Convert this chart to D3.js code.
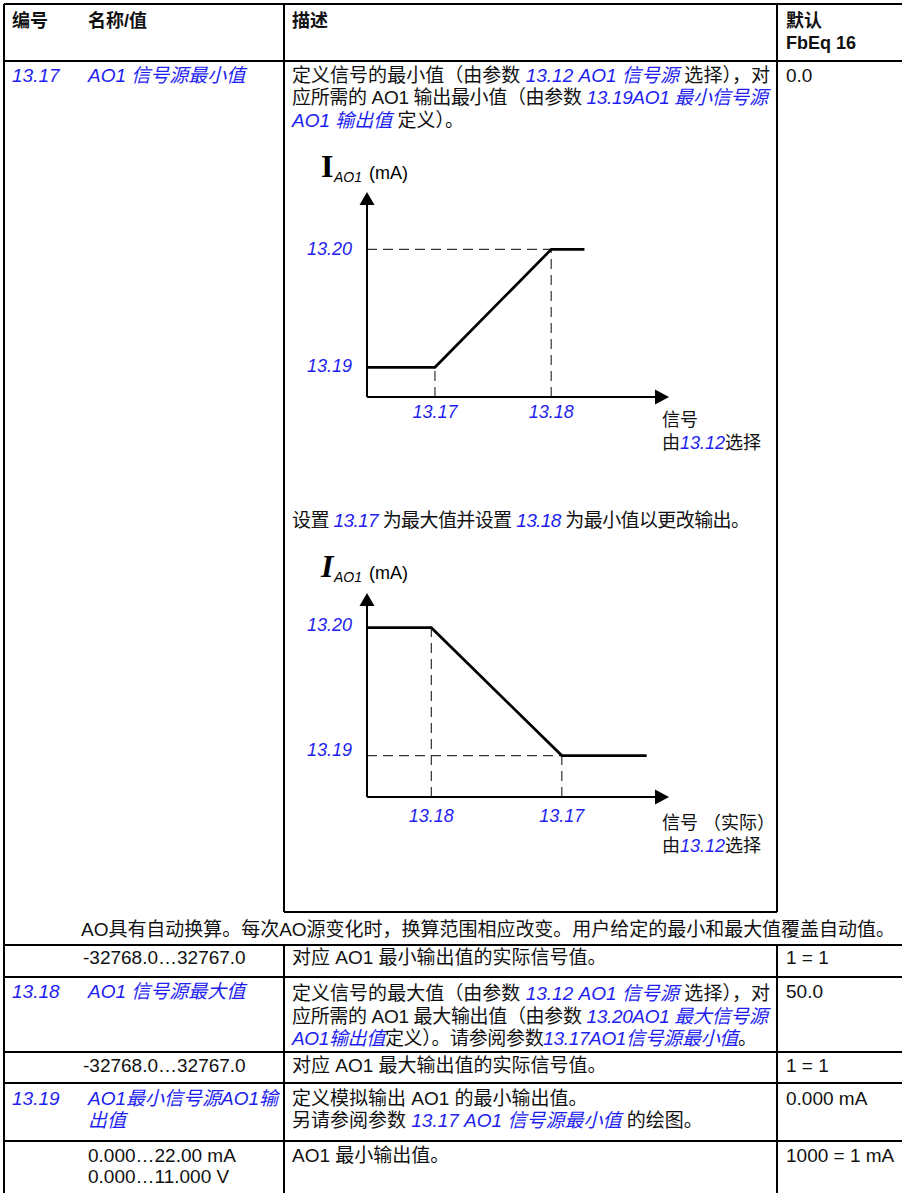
<!DOCTYPE html>
<html>
<head>
<meta charset="utf-8">
<script src="https://cdn.jsdelivr.net/npm/d3@7"></script>
<style>
  body { margin: 0; background: #fff; }
  svg { display: block; }
  text { font-family: "Liberation Sans", Arial, "Noto Sans CJK SC", sans-serif; font-size: 19px; fill: #111; white-space: pre; }
  .hd { font-weight: bold; font-size: 18px; }
  .dg { font-size: 18px; }
  .b { fill: #1e1ef0; font-style: italic; }
</style>
</head>
<body>
<svg id="page" width="902" height="1193"></svg>
<script>
// Diagram 1: signal (x) vs AO1 output (y), both axes in 0..10 units
const sig1 = [0, 2.25, 6.1, 7.2];
const out1 = [1.45, 1.45, 7.2, 7.2];
const xTicks1 = [2.25, 6.1];
const xLabels1 = ['13.17', '13.18'];
const yTicks1 = [1.45, 7.2];
const yLabels1 = ['13.19', '13.20'];

// Diagram 2: inverted (13.17 > 13.18)
const sig2 = [0, 2.13, 6.45, 9.26];
const out2 = [8.3, 8.3, 2.03, 2.03];
const xTicks2 = [2.13, 6.45];
const xLabels2 = ['13.18', '13.17'];
const yTicks2 = [2.03, 8.3];
const yLabels2 = ['13.19', '13.20'];

// Table text (segments: [text, blue?])
const headers = ['编号', '名称/值', '描述'];
const defaultHeader = ['默认', 'FbEq 16'];
const ids = ['13.17', '13.18', '13.19'];
const names = [['AO1 信号源最小值'], ['AO1 信号源最大值'], ['AO1最小信号源AO1输', '出值']];
const defaults = ['0.0', '1 = 1', '50.0', '1 = 1', '0.000 mA', '1000 = 1 mA'];
const ranges = [['-32768.0…32767.0'], ['-32768.0…32767.0'], ['0.000…22.00 mA', '0.000…11.000 V']];

const desc1717 = [
  [['定义信号的最小值（由参数 '], ['13.12 AO1 信号源', 1], [' 选择），对']],
  [['应所需的 AO1 输出最小值（由参数 '], ['13.19AO1 最小信号源', 1]],
  [['AO1 输出值', 1], [' 定义）。']]
];
const introDiag2 = [['设置 '], ['13.17', 1], [' 为最大值并设置 '], ['13.18', 1], [' 为最小值以更改输出。']];
const note = 'AO具有自动换算。每次AO源变化时，换算范围相应改变。用户给定的最小和最大值覆盖自动值。';
const descRange1 = [[['对应 AO1 最小输出值的实际信号值。']]];
const desc1318 = [
  [['定义信号的最大值（由参数 '], ['13.12 AO1 信号源', 1], [' 选择），对']],
  [['应所需的 AO1 最大输出值（由参数 '], ['13.20AO1 最大信号源', 1]],
  [['AO1输出值', 1], ['定义）。请参阅参数'], ['13.17AO1信号源最小值', 1], ['。']]
];
const descRange2 = [[['对应 AO1 最大输出值的实际信号值。']]];
const desc1319 = [
  [['定义模拟输出 AO1 的最小输出值。']],
  [['另请参阅参数 '], ['13.17 AO1 信号源最小值', 1], [' 的绘图。']]
];
const descRange3 = [[['AO1 最小输出值。']]];

const svg = d3.select('#page');

// ---- table grid
const X0 = 4, C1 = 284, C2 = 777, XR = 903;
const hLines = [[4, X0, XR], [61, X0, XR], [912, C1, C2], [945, X0, XR], [977, X0, XR],
                [1052, X0, XR], [1083, X0, XR], [1141, X0, XR]];
const vLines = [[X0, 4, 1193], [C1, 4, 912], [C2, 4, 912], [C1, 945, 1193], [C2, 945, 1193]];

const grid = svg.append('g').attr('stroke', '#000').attr('stroke-width', 2);
grid.selectAll('.h').data(hLines).enter().append('line')
  .attr('x1', d => d[1]).attr('x2', d => d[2]).attr('y1', d => d[0]).attr('y2', d => d[0]);
grid.selectAll('.v').data(vLines).enter().append('line')
  .attr('x1', d => d[0]).attr('x2', d => d[0]).attr('y1', d => d[1]).attr('y2', d => d[2]);

// rich text line helper
function rich(x, y, segs, cls) {
  const t = svg.append('text').attr('x', x).attr('y', y).attr('xml:space', 'preserve');
  if (cls) t.attr('class', cls);
  segs.forEach(s => {
    t.append('tspan').attr('class', s[1] ? 'b' : null).text(s[0]);
  });
  return t;
}
// paragraph; ends[i] = right edge for justified lines (null = natural width)
function para(x, ys, lines, ends) {
  lines.forEach((l, i) => {
    const t = rich(x, ys[i], l);
    if (ends && ends[i]) t.attr('textLength', ends[i] - x).attr('lengthAdjust', 'spacing');
  });
}

// ---- header
rich(12, 27, [[headers[0]]], 'hd');
rich(88, 27, [[headers[1]]], 'hd');
rich(292, 27, [[headers[2]]], 'hd');
rich(786, 27, [[defaultHeader[0]]], 'hd');
rich(786, 49, [[defaultHeader[1]]], 'hd');

// ---- row 13.17
rich(12, 81.5, [[ids[0], 1]]);
rich(88, 81.5, [[names[0][0], 1]]);
para(292, [81.5, 104, 126.5], desc1717, [770, 768, null]);
rich(786, 81.5, [[defaults[0]]]);

// ---- diagrams
function diagram(cfg) {
  const x = d3.scaleLinear().domain([0, 10]).range([367, 669]);
  const y = d3.scaleLinear().domain([0, 10]).range([cfg.orig, cfg.tip]);
  const g = svg.append('g');

  // dashed guides
  const guides = [
    [[0, cfg.out[2]], [cfg.sig[2], cfg.out[2]]],
    [[cfg.sig[1], 0], [cfg.sig[1], cfg.out[1]]],
    [[cfg.sig[2], 0], [cfg.sig[2], cfg.out[2]]]
  ];
  g.selectAll('.guide').data(guides).enter().append('line')
    .attr('x1', d => x(d[0][0])).attr('y1', d => y(d[0][1]))
    .attr('x2', d => x(d[1][0])).attr('y2', d => y(d[1][1]))
    .attr('stroke', '#333').attr('stroke-width', 1.2).attr('stroke-dasharray', '10,6');

  // axes with arrows
  g.append('line').attr('x1', x(0)).attr('y1', y(0)).attr('x2', x(0)).attr('y2', y(10) + 8)
    .attr('stroke', '#000').attr('stroke-width', 2);
  g.append('line').attr('x1', x(0)).attr('y1', y(0)).attr('x2', x(10) - 8).attr('y2', y(0))
    .attr('stroke', '#000').attr('stroke-width', 2);
  g.append('path')
    .attr('d', `M${x(0)},${y(10)}L${x(0) - 7.5},${y(10) + 13}L${x(0) + 7.5},${y(10) + 13}Z`);
  g.append('path')
    .attr('d', `M${x(10)},${y(0)}L${x(10) - 14},${y(0) - 7.5}L${x(10) - 14},${y(0) + 7.5}Z`);

  // characteristic
  const pts = cfg.sig.map((s, i) => [s, cfg.out[i]]);
  g.append('path').datum(pts)
    .attr('d', d3.line().x(d => x(d[0])).y(d => y(d[1])))
    .attr('fill', 'none').attr('stroke', '#000').attr('stroke-width', 2.7)
    .attr('stroke-linejoin', 'miter');

  // tick labels
  g.selectAll('.yl').data(cfg.yTicks).enter().append('text')
    .attr('class', 'b dg').attr('text-anchor', 'end')
    .attr('x', 352).attr('y', (d, i) => y(d) + cfg.yOff[i])
    .text((d, i) => cfg.yLabels[i]);
  g.selectAll('.xl').data(cfg.xTicks).enter().append('text')
    .attr('class', 'b dg').attr('text-anchor', 'middle')
    .attr('x', d => x(d)).attr('y', cfg.orig + cfg.xOff)
    .text((d, i) => cfg.xLabels[i]);

  // title I_AO1 (mA)
  g.append('text').attr('x', 321).attr('y', cfg.titleY)
    .style('font-family', '"Liberation Serif", "Times New Roman", serif')
    .style('font-size', '32px').style('font-weight', 'bold').style('fill', '#000')
    .style('font-style', cfg.italicI ? 'italic' : 'normal').text('I');
  g.append('text').attr('x', 334).attr('y', cfg.titleY + 5)
    .style('font-size', '14px').style('font-style', 'italic').style('fill', '#000').text('AO1');
  g.append('text').attr('x', 369).attr('y', cfg.titleY + 2.5)
    .style('font-size', '18px').style('fill', '#000').text('(mA)');

  // x caption
  rich(662, cfg.capY, [[cfg.cap]], 'dg');
  rich(662, cfg.capY + 23, [['由'], ['13.12', 1], ['选择']], 'dg');
}

diagram({ sig: sig1, out: out1, orig: 397, tip: 192, xTicks: xTicks1, xLabels: xLabels1,
  yTicks: yTicks1, yLabels: yLabels1, yOff: [5, 6], xOff: 21, titleY: 176.5, italicI: false,
  capY: 426, cap: '信号' });

para(292, [526.5], [introDiag2], [750]);

diagram({ sig: sig2, out: out2, orig: 797, tip: 593, xTicks: xTicks2, xLabels: xLabels2,
  yTicks: yTicks2, yLabels: yLabels2, yOff: [0, 3], xOff: 25, titleY: 576.5, italicI: true,
  capY: 829, cap: '信号 （实际）' });

// ---- note row
rich(81, 936, [[note]]).attr('textLength', 814).attr('lengthAdjust', 'spacing');

// ---- range row 1
rich(83, 963.5, [[ranges[0][0]]]);
para(292, [963.5], descRange1);
rich(786, 963.5, [[defaults[1]]]);

// ---- row 13.18
rich(12, 998, [[ids[1], 1]]);
rich(88, 998, [[names[1][0], 1]]);
para(292, [1000, 1022.5, 1044.5], desc1318, [770, 768, 757]);
rich(786, 998, [[defaults[2]]]);

// ---- range row 2
rich(83, 1072, [[ranges[1][0]]]);
para(292, [1072], descRange2);
rich(786, 1072, [[defaults[3]]]);

// ---- row 13.19
rich(12, 1105, [[ids[2], 1]]);
rich(88, 1105, [[names[2][0], 1]]);
rich(88, 1127, [[names[2][1], 1]]);
para(292, [1105, 1127], desc1319);
rich(786, 1105, [[defaults[4]]]);

// ---- range row 3
rich(88, 1161.5, [[ranges[2][0]]]);
rich(88, 1182.5, [[ranges[2][1]]]);
para(292, [1161.5], descRange3);
rich(786, 1161.5, [[defaults[5]]]);
</script>
</body>
</html>
